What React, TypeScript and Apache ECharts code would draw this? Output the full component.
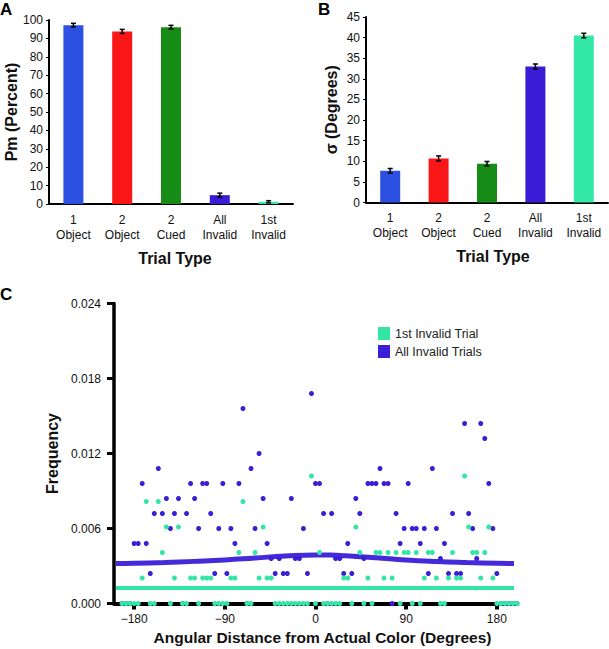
import React, { useEffect, useRef } from "react";
import * as echarts from "echarts";

const FONT = "Liberation Sans, Arial, Helvetica, sans-serif";

// Panels A & B
const categories = ["1\nObject", "2\nObject", "2\nCued", "All\nInvalid", "1st\nInvalid"];
const barColors = ["#2b50e2", "#f81616", "#168c16", "#3a1cd6", "#33e8a8"];
const pmValues = [97.2, 93.8, 96.1, 4.8, 1.2];
const pmErrors = [1.0, 1.1, 1.0, 1.1, 0.6];
const sigmaValues = [7.7, 10.7, 9.4, 33.0, 40.5];
const sigmaErrors = [0.55, 0.6, 0.55, 0.6, 0.55];

// Panel C: angular bins (degrees)
const angleBins = [
  -192, -188, -184, -180, -176, -172, -168, -164, -160, -156, -152, -148, -144, -140, -136, -132,
  -128, -124, -120, -116, -112, -108, -104, -100, -96, -92, -88, -84, -80, -76, -72, -68,
  -64, -60, -56, -52, -48, -44, -40, -36, -32, -28, -24, -20, -16, -12, -8, -4,
  0, 4, 8, 12, 16, 20, 24, 28, 32, 36, 40, 44, 48, 52, 56, 60,
  64, 68, 72, 76, 80, 84, 88, 92, 96, 100, 104, 108, 112, 116, 120, 124,
  128, 132, 136, 140, 144, 148, 152, 156, 160, 164, 168, 172, 176, 180, 184, 188,
  192, 196, 200,
];
const allInvalidFreq = [
  0, 0, 0, 0.0048, 0.0048, 0.0096, 0.0048, 0.0024, 0.0072, 0.0108, 0.0072, 0.0084, 0.006, 0.0072, 0.0084, 0,
  0.0072, 0.0096, 0.0084, 0.006, 0.0096, 0.0096, 0.0072, 0.0024, 0.006, 0.0096, 0.0024, 0.006, 0.0048, 0.0096, 0.0156, 0,
  0.0108, 0.006, 0.012, 0.0084, 0.0048, 0.0036, 0.0024, 0.0036, 0.0024, 0.0024, 0.0084, 0.0036, 0.0036, 0.006, 0.0024, 0.0168,
  0.0096, 0.0096, 0.0072, 0, 0.0072, 0.0036, 0.0036, 0.0024, 0.0048, 0.0024, 0.0084, 0.0072, 0.0036, 0.0096, 0.0096, 0.0096,
  0.0108, 0.0096, 0.0096, 0, 0.0072, 0.0048, 0.006, 0.0096, 0.006, 0.006, 0.0048, 0.006, 0.0024, 0.0108, 0.006, 0.0036,
  0.0048, 0.0024, 0.0072, 0.0024, 0.0024, 0.0144, 0.0072, 0.006, 0.0036, 0.0144, 0.0132, 0.0096, 0.006, 0.0024, 0, 0,
  0, 0, 0,
];
const firstInvalidFreq = [
  0, 0, 0, 0, 0, 0.00204, 0.00816, 0, 0, 0.00816, 0.00408, 0.00612, 0, 0.00204, 0.00612, 0,
  0, 0.00204, 0.00204, 0, 0.00204, 0.00204, 0.00204, 0, 0, 0, 0, 0.00204, 0.00204, 0.00408, 0.00816, 0,
  0, 0.00408, 0.00204, 0.00612, 0.00204, 0.00204, 0, 0, 0, 0, 0, 0, 0, 0, 0, 0.0102,
  0, 0.00408, 0, 0, 0, 0, 0, 0.00204, 0.00204, 0, 0.00612, 0.00408, 0, 0.00204, 0, 0.00408,
  0.00408, 0.00204, 0.00408, 0.00204, 0.00408, 0, 0.00408, 0.00408, 0, 0.00408, 0, 0.00204, 0.00408, 0.00408, 0.00204, 0,
  0, 0.00204, 0.00408, 0.00204, 0.00204, 0.0102, 0.00612, 0.00408, 0.00408, 0.00204, 0.00408, 0.00612, 0.00204, 0, 0, 0,
  0, 0, 0,
];
// Model fits
const fitAngles = [-198, -180, -150, -120, -90, -60, -30, 0, 15, 30, 60, 90, 120, 150, 180, 197];
const allInvalidFit = [0.0032, 0.00322, 0.00328, 0.00337, 0.00348, 0.00364, 0.0038, 0.00389, 0.00388, 0.00382, 0.00366, 0.00348, 0.00336, 0.00328, 0.00322, 0.0032];
const firstInvalidFitAngles = [-198, 197];
const firstInvalidFit = [0.00125, 0.00125];
const cTicks = [-180, -90, 0, 90, 180];

const BLUE = "#3a1fd6";
const TEAL = "#33e6a6";

function errorSeries(xIndex: number, values: number[], errors: number[]) {
  return {
    type: "custom",
    xAxisIndex: xIndex,
    yAxisIndex: xIndex,
    z: 5,
    data: values.map((v, i) => [i, v, errors[i]]),
    renderItem: (params: any, api: any) => {
      const i = api.value(0);
      const v = api.value(1);
      const e = api.value(2);
      const top = api.coord([i, v + e]);
      const bot = api.coord([i, v - e]);
      const hw = 2.5;
      const style = { stroke: "#000", lineWidth: 1.5 };
      return {
        type: "group",
        children: [
          { type: "line", shape: { x1: top[0], y1: top[1], x2: bot[0], y2: bot[1] }, style },
          { type: "line", shape: { x1: top[0] - hw, y1: top[1], x2: top[0] + hw, y2: top[1] }, style },
          { type: "line", shape: { x1: bot[0] - hw, y1: bot[1], x2: bot[0] + hw, y2: bot[1] }, style },
        ],
      };
    },
  };
}

function barCatAxis(gridIndex: number, shift: number) {
  return {
    type: "category",
    gridIndex,
    data: categories,
    name: "Trial Type",
    nameLocation: "middle",
    nameGap: 46,
    nameTextStyle: { fontFamily: FONT, fontSize: 16, fontWeight: "bold", color: "#111", padding: [0, 0, 0, shift] },
    axisLine: { show: true, lineStyle: { color: "#000", width: 2 } },
    axisTick: { show: false },
    axisLabel: { fontFamily: FONT, fontSize: 12, color: "#111", lineHeight: 15, margin: 8 },
  };
}

export default function App() {
  const ref = useRef<HTMLDivElement>(null);
  useEffect(() => {
    if (!ref.current) return;
    const chart = echarts.init(ref.current, null, { renderer: "svg" });
    const option: any = {
      animation: false,
      backgroundColor: "#fff",
      textStyle: { fontFamily: FONT },
      grid: [
        { left: 49, top: 20, width: 244, height: 184 },
        { left: 366, top: 17, width: 242, height: 185.5 },
        { left: 114, top: 303.5, width: 403, height: 300 },
      ],
      legend: {
        data: ["1st Invalid Trial", "All Invalid Trials"],
        orient: "vertical",
        left: 373,
        top: 322,
        itemWidth: 12,
        itemHeight: 13,
        itemGap: 5,
        icon: "rect",
        textStyle: { fontFamily: FONT, fontSize: 12.5, color: "#222" },
      },
      graphic: [
        { type: "text", x: 0, y: 1, style: { text: "A", font: `bold 17px ${FONT}`, fill: "#000" } },
        { type: "text", x: 318, y: 1, style: { text: "B", font: `bold 17px ${FONT}`, fill: "#000" } },
        { type: "text", x: 0, y: 286, style: { text: "C", font: `bold 17px ${FONT}`, fill: "#000" } },
      ],
      xAxis: [
        barCatAxis(0, 8),
        barCatAxis(1, 12),
        {
          type: "value",
          gridIndex: 2,
          min: -200,
          max: 200,
          name: "Angular Distance from Actual Color (Degrees)",
          nameLocation: "middle",
          nameGap: 26,
          nameTextStyle: { fontFamily: FONT, fontSize: 15.5, fontWeight: "bold", color: "#111", padding: [0, 0, 0, 14] },
          splitLine: { show: false },
          axisLine: { show: true, onZero: false, lineStyle: { color: "#000", width: 4 } },
          axisTick: { show: true, customValues: cTicks, length: 6, lineStyle: { color: "#000", width: 4 } },
          axisLabel: {
            customValues: cTicks,
            fontFamily: FONT,
            fontSize: 12,
            color: "#111",
            margin: 9,
            formatter: (v: number) => String(v).replace("-", "\u2212"),
          },
        },
      ],
      yAxis: [
        {
          type: "value",
          gridIndex: 0,
          min: 0,
          max: 100,
          interval: 10,
          name: "Pm (Percent)",
          nameLocation: "middle",
          nameGap: 29,
          nameTextStyle: { fontFamily: FONT, fontSize: 16, fontWeight: "bold", color: "#111" },
          splitLine: { show: false },
          axisLine: { show: true, lineStyle: { color: "#000", width: 2 } },
          axisTick: { show: true, length: 3, lineStyle: { color: "#000", width: 1 } },
          axisLabel: { fontFamily: FONT, fontSize: 12, color: "#111", margin: 6 },
        },
        {
          type: "value",
          gridIndex: 1,
          min: 0,
          max: 45,
          interval: 5,
          name: "\u03c3 (Degrees)",
          nameLocation: "middle",
          nameGap: 27,
          nameTextStyle: { fontFamily: FONT, fontSize: 16, fontWeight: "bold", color: "#111" },
          splitLine: { show: false },
          axisLine: { show: true, lineStyle: { color: "#000", width: 2 } },
          axisTick: { show: true, length: 3, lineStyle: { color: "#000", width: 1 } },
          axisLabel: { fontFamily: FONT, fontSize: 12, color: "#111", margin: 6 },
        },
        {
          type: "value",
          gridIndex: 2,
          min: 0,
          max: 0.024,
          interval: 0.006,
          name: "Frequency",
          nameLocation: "middle",
          nameGap: 53,
          nameTextStyle: { fontFamily: FONT, fontSize: 16, fontWeight: "bold", color: "#111" },
          splitLine: { show: false },
          axisLine: { show: true, onZero: false, lineStyle: { color: "#000", width: 3.5 } },
          axisTick: { show: true, length: 7, lineStyle: { color: "#000", width: 3 } },
          axisLabel: {
            fontFamily: FONT,
            fontSize: 12,
            color: "#111",
            margin: 13,
            formatter: (v: number) => v.toFixed(3),
          },
        },
      ],
      series: [
        {
          type: "bar",
          xAxisIndex: 0,
          yAxisIndex: 0,
          barWidth: 20,
          data: pmValues.map((v, i) => ({ value: v, itemStyle: { color: barColors[i] } })),
        },
        errorSeries(0, pmValues, pmErrors),
        {
          type: "bar",
          xAxisIndex: 1,
          yAxisIndex: 1,
          barWidth: 20,
          data: sigmaValues.map((v, i) => ({ value: v, itemStyle: { color: barColors[i] } })),
        },
        errorSeries(1, sigmaValues, sigmaErrors),
        {
          name: "All Invalid Fit",
          type: "line",
          xAxisIndex: 2,
          yAxisIndex: 2,
          smooth: true,
          showSymbol: false,
          z: 2,
          lineStyle: { color: BLUE, width: 5, opacity: 0.95 },
          data: fitAngles.map((a, i) => [a, allInvalidFit[i]]),
        },
        {
          name: "1st Invalid Fit",
          type: "line",
          xAxisIndex: 2,
          yAxisIndex: 2,
          showSymbol: false,
          z: 2,
          lineStyle: { color: TEAL, width: 4 },
          data: firstInvalidFitAngles.map((a, i) => [a, firstInvalidFit[i]]),
        },
        {
          name: "All Invalid Trials",
          type: "scatter",
          xAxisIndex: 2,
          yAxisIndex: 2,
          clip: false,
          symbolSize: 5,
          z: 3,
          itemStyle: { color: BLUE, opacity: 1 },
          data: angleBins.map((a, i) => [a, allInvalidFreq[i]]),
        },
        {
          name: "1st Invalid Trial",
          type: "scatter",
          xAxisIndex: 2,
          yAxisIndex: 2,
          clip: false,
          symbolSize: 5,
          z: 4,
          itemStyle: { color: TEAL, opacity: 1 },
          data: angleBins.map((a, i) => [a, firstInvalidFreq[i]]),
        },
      ],
    };
    chart.setOption(option);
    return () => chart.dispose();
  }, []);
  return (
    <div
      ref={ref}
      style={{ position: "fixed", left: 0, top: 0, width: 609, height: 649, background: "#fff" }}
    />
  );
}
